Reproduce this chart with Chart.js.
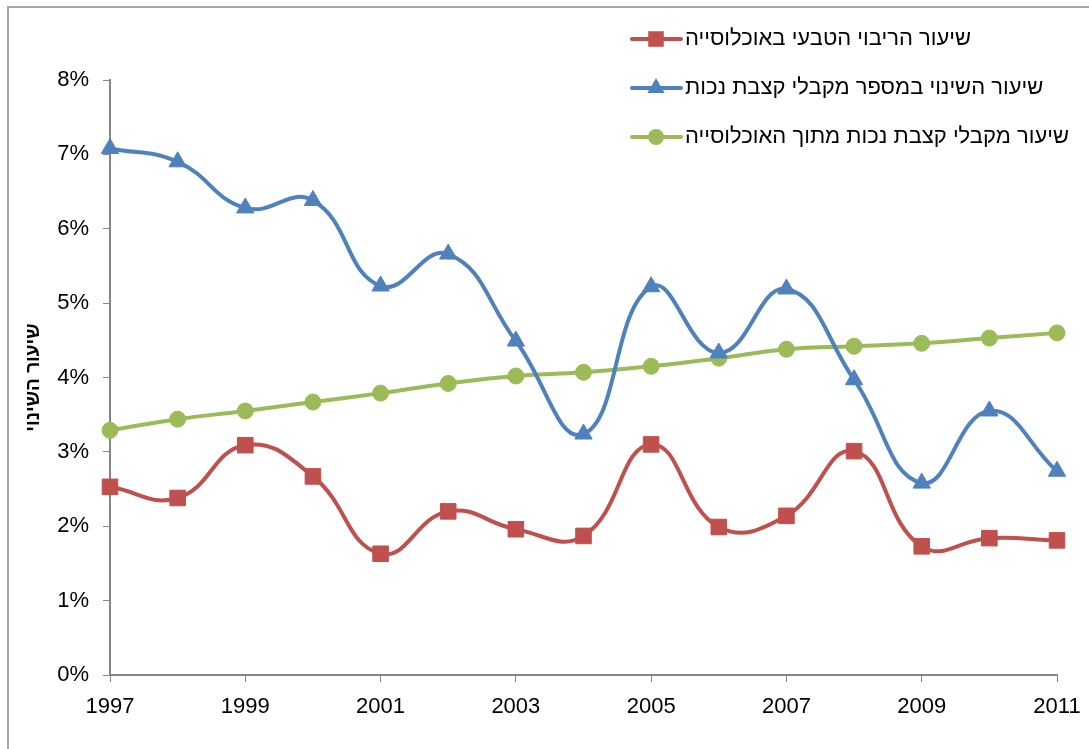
<!DOCTYPE html>
<html>
<head>
<meta charset="utf-8">
<script src="https://cdn.jsdelivr.net/npm/chart.js@4.4.1/dist/chart.umd.min.js"></script>
<style>
  body { margin: 0; background: #fff; }
  #wrap { position: relative; width: 1089px; height: 749px; }
  #frame { position: absolute; left: 7px; top: 6px; width: 1200px; height: 900px;
           border-top: 2px solid #a6a6a6; border-left: 2px solid #a6a6a6; }
  canvas { position: absolute; left: 0; top: 0; }
</style>
</head>
<body>
<div id="wrap">
  <div id="frame"></div>
  <canvas id="rateChart" width="1089" height="749"></canvas>
</div>
<script>
const years = ['1997', '1998', '1999', '2000', '2001', '2002', '2003', '2004',
               '2005', '2006', '2007', '2008', '2009', '2010', '2011'];

const naturalGrowth = [2.53, 2.38, 3.09, 2.67, 1.63, 2.20, 1.96, 1.87, 3.10, 1.99, 2.14, 3.01, 1.73, 1.84, 1.81];
const recipientsChange = [7.08, 6.90, 6.28, 6.38, 5.23, 5.66, 4.49, 3.24, 5.22, 4.33, 5.19, 3.97, 2.58, 3.55, 2.74];
const recipientsShare = [3.29, 3.44, 3.55, 3.67, 3.79, 3.92, 4.02, 4.07, 4.15, 4.26, 4.38, 4.42, 4.46, 4.53, 4.60];

const seriesNames = [
    'שיעור הריבוי הטבעי באוכלוסייה',
    'שיעור השינוי במספר מקבלי קצבת נכות',
    'שיעור מקבלי קצבת נכות מתוך האוכלוסייה'
];

const yTicks = [0, 1, 2, 3, 4, 5, 6, 7, 8];

// legend drawn by hand, to the right-top like in the original
const sideLegend = {
    id: 'sideLegend',
    afterDraw(chart) {
        const ctx = chart.ctx;
        const rows = [39, 88, 137];
        chart.data.datasets.forEach((ds, i) => {
            const y = rows[i];
            ctx.save();
            ctx.strokeStyle = ds.borderColor;
            ctx.lineWidth = 4;
            ctx.lineCap = 'round';
            ctx.beginPath();
            ctx.moveTo(632, y);
            ctx.lineTo(681, y);
            ctx.stroke();
            ctx.fillStyle = ds.borderColor;
            ctx.strokeStyle = ds.borderColor;
            ctx.lineWidth = 1;
            Chart.helpers.drawPoint(ctx, {pointStyle: ds.pointStyle, radius: ds.pointRadius, rotation: 0}, 656, y);
            ctx.fillStyle = '#000';
            ctx.font = '22px "Liberation Sans", Arial, sans-serif';
            ctx.textAlign = 'left';
            ctx.textBaseline = 'middle';
            ctx.fillText(ds.label, 685, y);
            ctx.restore();
        });
    }
};

document.addEventListener('DOMContentLoaded', function () {
    const ctx = document.getElementById('rateChart');
    new Chart(ctx, {
        type: 'line',
        data: {
            labels: years,
            datasets: [{
                label: seriesNames[0],
                data: naturalGrowth,
                borderColor: '#C0504D',
                backgroundColor: '#C0504D',
                borderWidth: 4,
                tension: 0.45,
                pointStyle: 'rect',
                pointRadius: 11,
                pointBorderWidth: 1
            }, {
                label: seriesNames[1],
                data: recipientsChange,
                borderColor: '#4F81BD',
                backgroundColor: '#4F81BD',
                borderWidth: 4,
                tension: 0.45,
                pointStyle: 'triangle',
                pointRadius: 10,
                pointBorderWidth: 1
            }, {
                label: seriesNames[2],
                data: recipientsShare,
                borderColor: '#9BBB59',
                backgroundColor: '#9BBB59',
                borderWidth: 4,
                tension: 0.45,
                pointStyle: 'circle',
                pointRadius: 8,
                pointBorderWidth: 1
            }]
        },
        options: {
            responsive: false,
            animation: false,
            layout: { padding: { top: 80, right: 32, left: 0, bottom: 0 } },
            plugins: {
                legend: { display: false },
                tooltip: { enabled: false }
            },
            scales: {
                x: {
                    offset: false,
                    grid: {
                        drawOnChartArea: false,
                        drawTicks: true,
                        tickLength: 7,
                        tickColor: c => (c.index % 2 === 0 ? '#868686' : 'rgba(0,0,0,0)'),
                        color: '#868686'
                    },
                    border: { color: '#868686', width: 2 },
                    ticks: {
                        autoSkip: false,
                        maxRotation: 0,
                        padding: 12,
                        color: '#000',
                        font: { family: '"Liberation Sans", Arial, sans-serif', size: 22 },
                        callback: function (v, i) { return i % 2 === 0 ? years[i] : ''; }
                    },
                    afterFit: s => { s.height = 74; s.paddingLeft = 0; s.paddingRight = 0; }
                },
                y: {
                    min: 0,
                    max: 8,
                    afterBuildTicks: s => { s.ticks = yTicks.map(v => ({ value: v })); },
                    grid: {
                        drawOnChartArea: false,
                        drawTicks: true,
                        tickLength: 7,
                        tickColor: '#868686'
                    },
                    border: { color: '#868686', width: 2 },
                    ticks: {
                        padding: 14,
                        color: '#000',
                        font: { family: '"Liberation Sans", Arial, sans-serif', size: 22 },
                        callback: v => v + '%'
                    },
                    title: {
                        display: true,
                        text: 'שיעור השינוי',
                        color: '#000',
                        padding: { top: 22, bottom: 0 },
                        font: { family: '"Liberation Sans", Arial, sans-serif', size: 19, weight: 'bold' }
                    },
                    afterFit: s => { s.width = 110; }
                }
            }
        },
        plugins: [sideLegend]
    });
});
</script>
</body>
</html>
